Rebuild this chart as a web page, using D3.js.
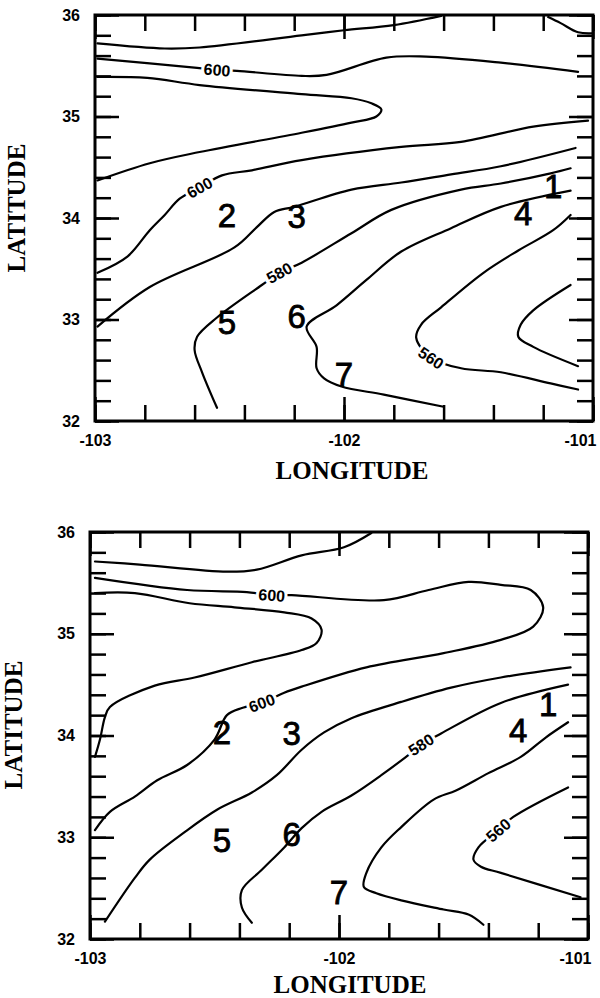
<!DOCTYPE html>
<html>
<head>
<meta charset="utf-8">
<script src="https://cdn.jsdelivr.net/npm/d3@7"></script>
<style>
  body { margin: 0; background: #fff; }
  .tick line { stroke: #000; stroke-width: 2.5; }
  .tick text { font-family: "Liberation Sans", Arial, sans-serif; font-weight: bold; font-size: 16px; fill: #000; }
</style>
</head>
<body>
<svg id="chart" width="600" height="998"></svg>
<script>
// axis values
var lonTicks = [-103, -102, -101];
var latTicks = [32, 33, 34, 35, 36];
var lonMinor = d3.range(0, 11).map(function(i) { return -103 + i * 0.2; });
var latMinor = d3.range(0, 21).map(function(i) { return 32 + i * 0.2; });

// station numbers (same sites on both maps)
var stationNames = ["1", "2", "3", "4", "5", "6", "7"];
var stationLon = [-101.16, -102.47, -102.19, -101.28, -102.47, -102.19, -102.00];
var stationLat = [34.31, 34.03, 34.02, 34.05, 32.97, 33.03, 32.46];

// upper map contours, [lon, lat]
var topA = [[-102.99,35.72],[-102.72,35.67],[-102.58,35.68],[-102.17,35.80],[-102.00,35.85],[-101.80,35.90],[-101.61,35.99]];
var topB = [[-102.99,35.57],[-102.59,35.48],[-102.51,35.46],[-102.43,35.45],[-102.17,35.40],[-102.07,35.41],[-101.83,35.58],[-101.67,35.59],[-101.37,35.53],[-101.06,35.44]];
var topC = [[-102.99,35.39],[-102.79,35.38],[-102.58,35.31],[-102.17,35.22],[-101.97,35.18],[-101.89,35.13],[-101.85,35.07],[-101.87,35.00],[-101.97,34.94],[-102.17,34.84],[-102.58,34.65],[-102.78,34.54],[-102.99,34.37]];
var topD = [[-102.99,33.46],[-102.87,33.62],[-102.78,33.88],[-102.72,34.03],[-102.66,34.19],[-102.58,34.30],[-102.49,34.42],[-102.37,34.47],[-102.17,34.57],[-101.77,34.70],[-101.53,34.75],[-101.24,34.90],[-101.02,34.96]];
var topE = [[-102.99,32.93],[-102.78,33.32],[-102.44,33.71],[-102.35,33.91],[-102.28,34.06],[-102.20,34.11],[-101.97,34.28],[-101.77,34.35],[-101.57,34.43],[-101.37,34.51],[-101.07,34.69]];
var topF = [[-101.09,34.49],[-101.17,34.44],[-101.37,34.34],[-101.53,34.28],[-101.81,34.08],[-101.97,33.85],[-102.17,33.56],[-102.26,33.46],[-102.33,33.34],[-102.51,33.02],[-102.59,32.83],[-102.60,32.70],[-102.57,32.48],[-102.51,32.13]];
var topG = [[-101.09,34.27],[-101.37,34.11],[-101.57,33.90],[-101.77,33.67],[-101.91,33.39],[-102.03,33.14],[-102.15,32.93],[-102.11,32.73],[-102.11,32.52],[-102.08,32.42],[-102.01,32.34],[-101.84,32.26],[-101.60,32.14]];
var topH = [[-101.09,34.03],[-101.16,33.88],[-101.30,33.68],[-101.44,33.46],[-101.61,33.12],[-101.69,32.95],[-101.71,32.82],[-101.65,32.62],[-101.53,32.52],[-101.37,32.48],[-101.17,32.37],[-101.06,32.31]];
var topI = [[-101.09,33.34],[-101.24,33.09],[-101.29,32.95],[-101.30,32.83],[-101.24,32.73],[-101.06,32.54]];
var topJ = [[-101.18,35.98],[-101.13,35.92],[-101.06,35.83],[-101.00,35.82]];

var topLabelText = ["600", "600", "580", "560"];
var topLabelLon = [-102.51, -102.58, -102.26, -101.65];
var topLabelLat = [35.46, 34.30, 33.46, 32.62];

// lower map contours
var botA = [[-102.98,35.71],[-102.80,35.68],[-102.45,35.61],[-102.33,35.63],[-102.15,35.77],[-101.98,35.85],[-101.87,35.99]];
var botB = [[-102.98,35.55],[-102.61,35.43],[-102.37,35.41],[-102.27,35.38],[-102.19,35.38],[-101.82,35.33],[-101.64,35.43],[-101.48,35.51],[-101.35,35.48],[-101.23,35.43],[-101.18,35.26],[-101.22,35.07],[-101.35,34.94],[-101.58,34.81],[-101.89,34.67],[-102.15,34.48],[-102.22,34.42],[-102.31,34.32],[-102.39,34.27],[-102.45,34.20],[-102.50,33.96],[-102.61,33.71],[-102.73,33.56],[-102.82,33.40],[-102.92,33.25],[-102.98,33.07]];
var botL = [[-102.98,35.40],[-102.82,35.40],[-102.60,35.30],[-102.42,35.26],[-102.22,35.21],[-102.11,35.15],[-102.07,35.04],[-102.09,34.91],[-102.15,34.84],[-102.35,34.72],[-102.58,34.57],[-102.74,34.49],[-102.92,34.28],[-102.94,34.18],[-102.96,33.96],[-102.98,33.79]];
var botE = [[-102.94,32.17],[-102.82,32.60],[-102.76,32.78],[-102.62,33.05],[-102.49,33.27],[-102.35,33.44],[-102.25,33.61],[-102.15,33.86],[-102.06,34.03],[-101.95,34.17],[-101.75,34.33],[-101.55,34.47],[-101.35,34.57],[-101.07,34.67]];
var botG = [[-102.35,32.16],[-102.39,32.31],[-102.39,32.48],[-102.31,32.68],[-102.22,32.90],[-102.15,33.09],[-102.07,33.25],[-101.95,33.41],[-101.83,33.61],[-101.71,33.83],[-101.67,33.91],[-101.59,34.02],[-101.35,34.32],[-101.08,34.50]];
var botH = [[-101.08,34.13],[-101.17,33.98],[-101.27,33.79],[-101.40,33.63],[-101.53,33.46],[-101.62,33.37],[-101.75,33.10],[-101.83,32.90],[-101.89,32.65],[-101.90,32.51],[-101.85,32.45],[-101.75,32.38],[-101.58,32.29],[-101.48,32.24],[-101.42,32.14]];
var botI = [[-101.08,33.49],[-101.30,33.20],[-101.36,33.07],[-101.44,32.90],[-101.46,32.78],[-101.43,32.71],[-101.35,32.65],[-101.03,32.41]];

var botLabelText = ["600", "600", "580", "560"];
var botLabelLon = [-102.27, -102.31, -101.67, -101.36];
var botLabelLat = [35.38, 34.32, 33.91, 33.07];

var svg = d3.select("#chart");
svg.append("rect").attr("width", 600).attr("height", 998).attr("fill", "#fff");

var panels = [
  { id: "p1", left: 95, right: 593, top: 15, bottom: 421, xTitleX: 352, xTitleY: 479, yTitleX: 25, yTitleY: 208,
    lines: [topA, topB, topC, topD, topE, topF, topG, topH, topI, topJ],
    labText: topLabelText, labLon: topLabelLon, labLat: topLabelLat },
  { id: "p2", left: 90, right: 588, top: 532, bottom: 939, xTitleX: 350, xTitleY: 993, yTitleX: 22, yTitleY: 725,
    lines: [botA, botB, botL, botE, botG, botH, botI],
    labText: botLabelText, labLon: botLabelLon, labLat: botLabelLat }
];

panels.forEach(function(p) {
  var x = d3.scaleLinear().domain([-103, -101]).range([p.left, p.right]);
  var y = d3.scaleLinear().domain([32, 36]).range([p.bottom, p.top]);
  var g = svg.append("g");

  g.append("clipPath").attr("id", "clip-" + p.id)
    .append("rect")
    .attr("x", p.left).attr("y", p.top)
    .attr("width", p.right - p.left).attr("height", p.bottom - p.top);

  // contours
  var line = d3.line()
    .x(function(d) { return x(d[0]); })
    .y(function(d) { return y(d[1]); })
    .curve(d3.curveCatmullRom.alpha(0.5));

  var cg = g.append("g").attr("clip-path", "url(#clip-" + p.id + ")");
  cg.selectAll("path.contour")
    .data(p.lines)
    .enter().append("path")
    .attr("class", "contour")
    .attr("d", line)
    .attr("fill", "none")
    .attr("stroke", "#000")
    .attr("stroke-width", 2.2)
    .attr("stroke-linejoin", "round")
    .attr("stroke-linecap", "round");

  // contour value labels, rotated along the nearest line
  p.labText.forEach(function(t, i) {
    var px = x(p.labLon[i]), py = y(p.labLat[i]);
    var best = null, bestD = Infinity;
    p.lines.forEach(function(ln) {
      ln.forEach(function(pt, k) {
        var dd = Math.pow(x(pt[0]) - px, 2) + Math.pow(y(pt[1]) - py, 2);
        if (dd < bestD) { bestD = dd; best = { ln: ln, k: k }; }
      });
    });
    var a = best.ln[Math.max(0, best.k - 1)], b = best.ln[Math.min(best.ln.length - 1, best.k + 1)];
    var ang = Math.atan2(y(b[1]) - y(a[1]), x(b[0]) - x(a[0])) * 180 / Math.PI;
    if (ang > 90) ang -= 180;
    if (ang < -90) ang += 180;
    g.append("text")
      .attr("transform", "translate(" + px + "," + py + ") rotate(" + ang + ")")
      .attr("text-anchor", "middle")
      .attr("dy", "0.36em")
      .attr("font-family", "Liberation Sans, Arial, sans-serif")
      .attr("font-weight", "bold")
      .attr("font-size", 16)
      .attr("stroke", "#fff")
      .attr("stroke-width", 6)
      .attr("paint-order", "stroke")
      .attr("fill", "#000")
      .text(t);
  });

  // station numbers
  g.selectAll("text.station")
    .data(stationNames)
    .enter().append("text")
    .attr("class", "station")
    .attr("x", function(d, i) { return x(stationLon[i]); })
    .attr("y", function(d, i) { return y(stationLat[i]); })
    .attr("dy", "0.36em")
    .attr("text-anchor", "middle")
    .attr("font-family", "Liberation Sans, Arial, sans-serif")
    .attr("font-size", 33)
    .attr("stroke", "#000")
    .attr("stroke-width", 0.8)
    .attr("fill", "#000")
    .text(function(d) { return d; });

  // ticks (inside the frame)
  g.append("g").attr("transform", "translate(0," + p.bottom + ")")
    .call(d3.axisBottom(x).tickValues(lonMinor).tickSize(-16).tickFormat(""));
  var xb = g.append("g").attr("transform", "translate(0," + p.bottom + ")")
    .call(d3.axisBottom(x).tickValues(lonTicks).tickSize(-24).tickPadding(14)
      .tickFormat(function(d) { return String(d); }));
  xb.selectAll(".tick text").filter(function(d) { return d === -101; })
    .attr("text-anchor", "end").attr("dx", 3);
  g.append("g").attr("transform", "translate(0," + p.top + ")")
    .call(d3.axisTop(x).tickValues(lonMinor).tickSize(-16).tickFormat(""));
  g.append("g").attr("transform", "translate(0," + p.top + ")")
    .call(d3.axisTop(x).tickValues(lonTicks).tickSize(-24).tickFormat(""));

  g.append("g").attr("transform", "translate(" + p.left + ",0)")
    .call(d3.axisLeft(y).tickValues(latMinor).tickSize(-16).tickFormat(""));
  g.append("g").attr("transform", "translate(" + p.left + ",0)")
    .call(d3.axisLeft(y).tickValues(latTicks).tickSize(-24).tickPadding(15)
      .tickFormat(function(d) { return String(d); }));
  g.append("g").attr("transform", "translate(" + p.right + ",0)")
    .call(d3.axisRight(y).tickValues(latMinor).tickSize(-16).tickFormat(""));
  g.append("g").attr("transform", "translate(" + p.right + ",0)")
    .call(d3.axisRight(y).tickValues(latTicks).tickSize(-24).tickFormat(""));

  g.selectAll(".domain").remove();

  // frame
  g.append("rect")
    .attr("x", p.left).attr("y", p.top)
    .attr("width", p.right - p.left).attr("height", p.bottom - p.top)
    .attr("fill", "none").attr("stroke", "#000").attr("stroke-width", 3);

  // axis titles
  g.append("text")
    .attr("x", p.xTitleX).attr("y", p.xTitleY)
    .attr("text-anchor", "middle")
    .attr("font-family", "Liberation Serif, Times New Roman, serif")
    .attr("font-weight", "bold").attr("font-size", 25)
    .text("LONGITUDE");
  g.append("text")
    .attr("transform", "translate(" + p.yTitleX + "," + p.yTitleY + ") rotate(-90)")
    .attr("text-anchor", "middle")
    .attr("font-family", "Liberation Serif, Times New Roman, serif")
    .attr("font-weight", "bold").attr("font-size", 25)
    .text("LATITUDE");
});
</script>
</body>
</html>
